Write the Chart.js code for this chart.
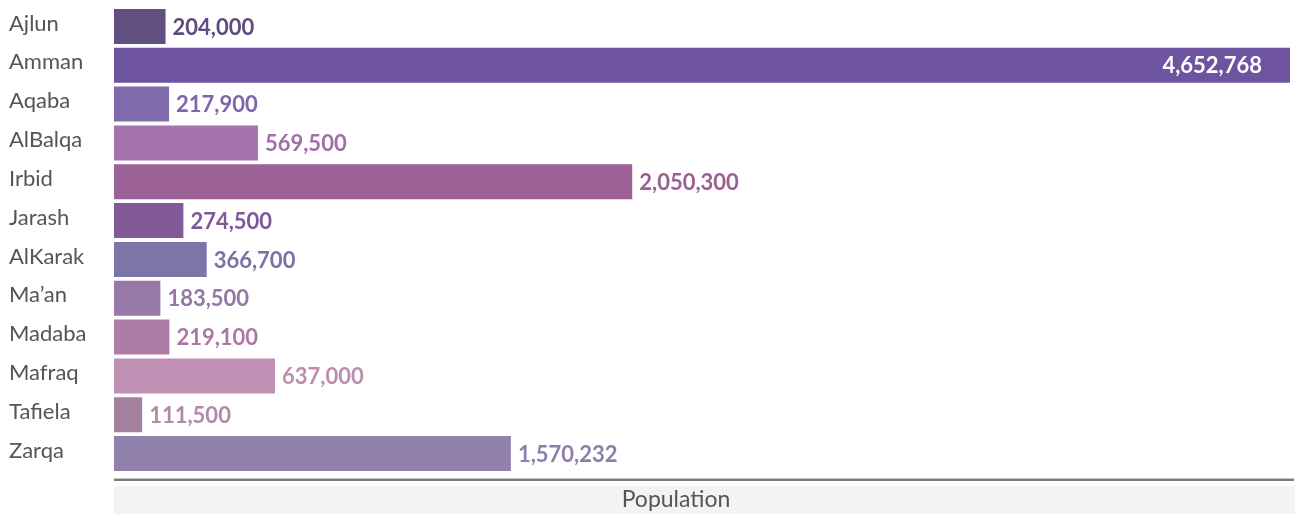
<!DOCTYPE html>
<html>
<head>
<meta charset="utf-8">
<script src="https://cdn.jsdelivr.net/npm/chart.js@4.4.0/dist/chart.umd.min.js"></script>
<style>
  html, body { margin: 0; padding: 0; background: #fff; overflow: hidden; }
  #popChart { display: block; }
</style>
</head>
<body>
<canvas id="popChart" width="1295" height="514"></canvas>
<script>
const governorates = ['Ajlun', 'Amman', 'Aqaba', 'AlBalqa', 'Irbid', 'Jarash', 'AlKarak', 'Ma\u2019an', 'Madaba', 'Mafraq', 'Tafiela', 'Zarqa'];
const population = [204000, 4652768, 217900, 569500, 2050300, 274500, 366700, 183500, 219100, 637000, 111500, 1570232];
const barColors = ['#614f82', '#6e53a0', '#806aad', '#a672ae', '#9c6196', '#825a98', '#7b75a8', '#9679a8', '#ae7ca7', '#bf90b3', '#a47f9f', '#9181ad'];
const labelColors = ['#5e4c80', '#6e53a0', '#7d67ab', '#a26eaa', '#9a5f94', '#7f5896', '#7872a6', '#9477a6', '#ab79a4', '#bb8daf', '#b08aaa', '#8e7eab'];
const axisTitle = 'Population';

const fontFamily = 'Lato, "Source Sans Pro", "Noto Sans", sans-serif';

// value labels + axis line + grey title band
const decorations = {
    id: 'decorations',
    beforeDraw(chart) {
        const ctx = chart.ctx;
        const area = chart.chartArea;
        ctx.save();
        ctx.fillStyle = '#f3f3f3';
        ctx.fillRect(area.left, area.bottom + 13, chart.width - area.left, chart.height - area.bottom - 13);
        ctx.fillStyle = '#c4c4c4';
        ctx.fillRect(area.left, area.bottom + 5, chart.width - area.left - 1, 1);
        ctx.fillStyle = '#7a7a7a';
        ctx.fillRect(area.left, area.bottom + 6, chart.width - area.left - 1, 2);
        // axis title, sits a little left of the band centre
        ctx.fillStyle = '#555';
        ctx.font = '23px ' + fontFamily;
        ctx.textAlign = 'center';
        ctx.textBaseline = 'middle';
        ctx.fillText(axisTitle, (area.left + area.right) / 2 - 26, area.bottom + 27);
        ctx.restore();
    },
    afterDatasetsDraw(chart) {
        const ctx = chart.ctx;
        const meta = chart.getDatasetMeta(0);
        ctx.save();
        ctx.font = 'bold 22px ' + fontFamily;
        ctx.textBaseline = 'middle';
        meta.data.forEach((bar, i) => {
            const text = population[i].toLocaleString('en-US');
            const w = ctx.measureText(text).width;
            if (bar.x + 7 + w > chart.width) {
                ctx.fillStyle = '#fff';
                ctx.textAlign = 'right';
                ctx.fillText(text, bar.x - 28, bar.y + 1);
            } else {
                ctx.fillStyle = labelColors[i];
                ctx.textAlign = 'left';
                ctx.fillText(text, bar.x + 7, bar.y + 1);
            }
        });
        ctx.restore();
    }
};

new Chart(document.getElementById('popChart'), {
    type: 'bar',
    data: {
        labels: governorates,
        datasets: [{
            data: population,
            backgroundColor: barColors,
            borderWidth: 0,
            categoryPercentage: 0.9,
            barPercentage: 1
        }]
    },
    options: {
        indexAxis: 'y',
        responsive: false,
        animation: false,
        devicePixelRatio: 1,
        layout: { padding: { left: 9, right: 5, top: 7, bottom: 0 } },
        plugins: {
            legend: { display: false },
            tooltip: { enabled: false }
        },
        scales: {
            x: {
                min: 0,
                max: population[1],
                grid: { display: false },
                border: { display: false },
                ticks: { display: false },
                title: { display: false },
                afterFit(axis) { axis.height = 41; }
            },
            y: {
                grid: { display: false },
                border: { display: false },
                afterFit(axis) {
                    axis.width = 105;
                    axis.paddingTop = 0;
                    axis.paddingBottom = 0;
                },
                ticks: {
                    autoSkip: false,
                    crossAlign: 'far',
                    color: '#555',
                    labelOffset: -3,
                    font: { family: fontFamily, size: 22 }
                }
            }
        }
    },
    plugins: [decorations]
});
</script>
</body>
</html>
